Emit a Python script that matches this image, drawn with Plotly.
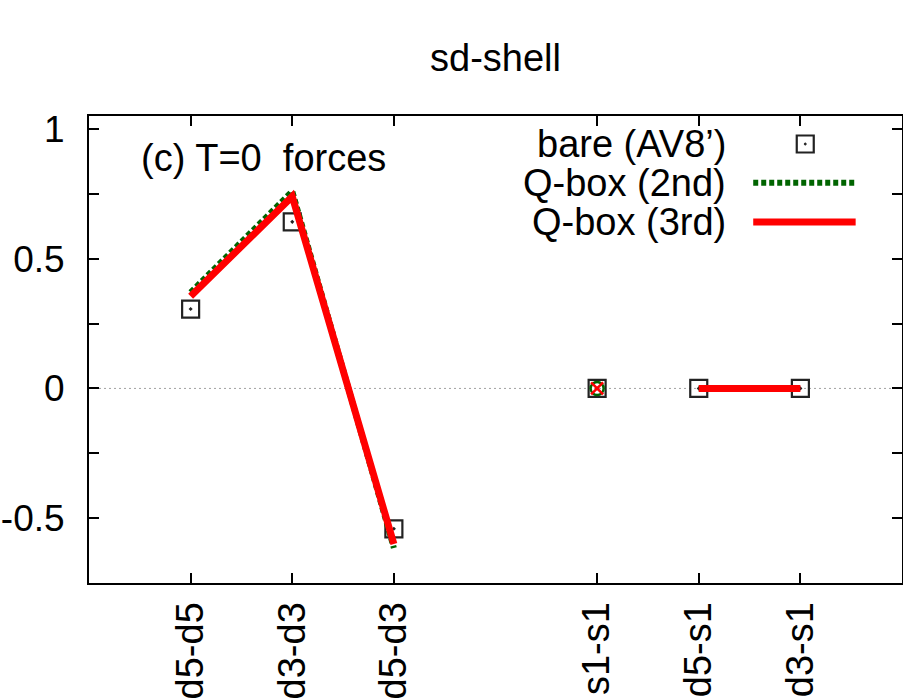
import plotly.graph_objects as go

# ---- data ----
categories = ["d5-d5", "d3-d3", "d5-d3", "s1-s1", "d5-s1", "d3-s1"]
x_pos = [1, 2, 3, 5, 6, 7]
bare = [0.306, 0.642, -0.541, 0.0, 0.0, 0.0]
qbox2 = [0.37, 0.76, -0.615, 0.0, 0.0, 0.0]
qbox3 = [0.355, 0.74, -0.60, 0.0, 0.0, 0.0]
legend_names = ["bare (AV8’)", "Q-box (2nd)", "Q-box (3rd)"]
title_text = "sd-shell"
panel_label = "(c) T=0  forces"

FONT = "Liberation Sans, Arial, sans-serif"
FS = 38
GREEN = "#006400"
RED = "#ff0000"
GRAY = "#222222"

# segments: d-d block (1-3), isolated s1-s1 (5), d-s1 block (6-7)
def segmented(vals):
    xs, ys = [], []
    for block in ([0, 1, 2], [4, 5]):
        for i in block:
            xs.append(x_pos[i]); ys.append(vals[i])
        xs.append(None); ys.append(None)
    return xs, ys

fig = go.Figure()

fig.add_trace(go.Scatter(
    x=x_pos, y=bare, mode="markers", name=legend_names[0], showlegend=False,
    marker=dict(symbol="square-open-dot", size=17, color=GRAY, line=dict(width=2.2, color=GRAY)),
))

x2, y2 = segmented(qbox2)
fig.add_trace(go.Scatter(
    x=x2, y=y2, mode="lines", name=legend_names[1], showlegend=False,
    line=dict(color=GREEN, width=6, dash="5px,3px"),
))
fig.add_trace(go.Scatter(
    x=[x_pos[3]], y=[qbox2[3]], mode="markers", showlegend=False,
    marker=dict(symbol="circle-open", size=13, color=GREEN, line=dict(width=2.5, color=GREEN)),
))

x3, y3 = segmented(qbox3)
fig.add_trace(go.Scatter(
    x=x3, y=y3, mode="lines", name=legend_names[2], showlegend=False,
    line=dict(color=RED, width=7),
))
fig.add_trace(go.Scatter(
    x=[x_pos[3]], y=[qbox3[3]], mode="markers", showlegend=False,
    marker=dict(symbol="x-thin-open", size=12, color=RED, line=dict(width=2.5, color=RED)),
))

# zero reference line
fig.add_shape(type="line", xref="paper", x0=0, x1=1, yref="y", y0=0, y1=0,
              line=dict(color="#a0a0a0", width=1, dash="2px,3px"), layer="below")

# manual gnuplot-style legend (text left of sample)
leg_text_x = 0.786
leg_ys = [0.940, 0.857, 0.773]
for name, ly in zip(legend_names, leg_ys):
    fig.add_annotation(xref="paper", yref="paper", x=leg_text_x, y=ly, text=name,
                       showarrow=False, xanchor="right", yanchor="middle",
                       font=dict(family=FONT, size=FS, color="black"))
fig.add_shape(type="rect", xref="paper", yref="paper", xsizemode="pixel", ysizemode="pixel",
              xanchor=0.881, yanchor=leg_ys[0], x0=-8.5, x1=8.5, y0=-8.5, y1=8.5,
              line=dict(color=GRAY, width=2.2))
fig.add_shape(type="circle", xref="paper", yref="paper", xsizemode="pixel", ysizemode="pixel",
              xanchor=0.881, yanchor=leg_ys[0], x0=-1, x1=1, y0=-1, y1=1,
              line=dict(color=GRAY, width=1), fillcolor=GRAY)
fig.add_shape(type="line", xref="paper", yref="paper", x0=0.817, x1=0.943,
              y0=leg_ys[1], y1=leg_ys[1], line=dict(color=GREEN, width=6, dash="5px,3px"))
fig.add_shape(type="line", xref="paper", yref="paper", x0=0.817, x1=0.943,
              y0=leg_ys[2], y1=leg_ys[2], line=dict(color=RED, width=7))

fig.add_annotation(xref="paper", yref="paper", x=0.062, y=0.91, text=panel_label,
                   showarrow=False, xanchor="left", yanchor="middle",
                   font=dict(family=FONT, size=FS, color="black"))

fig.add_annotation(xref="paper", yref="paper", x=0.5, y=1.125, text=title_text,
                   showarrow=False, xanchor="center", yanchor="middle",
                   font=dict(family=FONT, size=FS, color="black"))

axis_common = dict(
    showline=True, linecolor="black", linewidth=2, mirror="ticks",
    ticks="inside", ticklen=10, tickwidth=1.5, tickcolor="black",
    showgrid=False, zeroline=False,
)

fig.update_xaxes(range=[0, 8], tickmode="array", tickvals=x_pos, ticktext=categories,
                 tickangle=-90, ticklabelstandoff=2,
                 tickfont=dict(family=FONT, size=FS, color="black"), **axis_common)
fig.update_yaxes(range=[-0.75, 1.05], tickmode="array", tickvals=[-0.5, 0, 0.5, 1],
                 ticktext=["-0.5", "0", "0.5", "1"], ticklabelstandoff=15,
                 tickfont=dict(family=FONT, size=37, color="black"),
                 minor=dict(tickvals=[-0.25, 0.25, 0.75], ticks="inside", ticklen=10,
                            tickwidth=1.5, tickcolor="black"),
                 **axis_common)

fig.update_layout(
    width=903, height=700,
    margin=dict(l=89, r=1, t=116, b=117, autoexpand=False),
    plot_bgcolor="white", paper_bgcolor="white",
    showlegend=False,
    font=dict(family=FONT, size=FS, color="black"),
)

fig.write_html("out.html", config={"displayModeBar": False},
               post_script="document.body.style.margin='0';document.body.style.overflow='hidden';")
